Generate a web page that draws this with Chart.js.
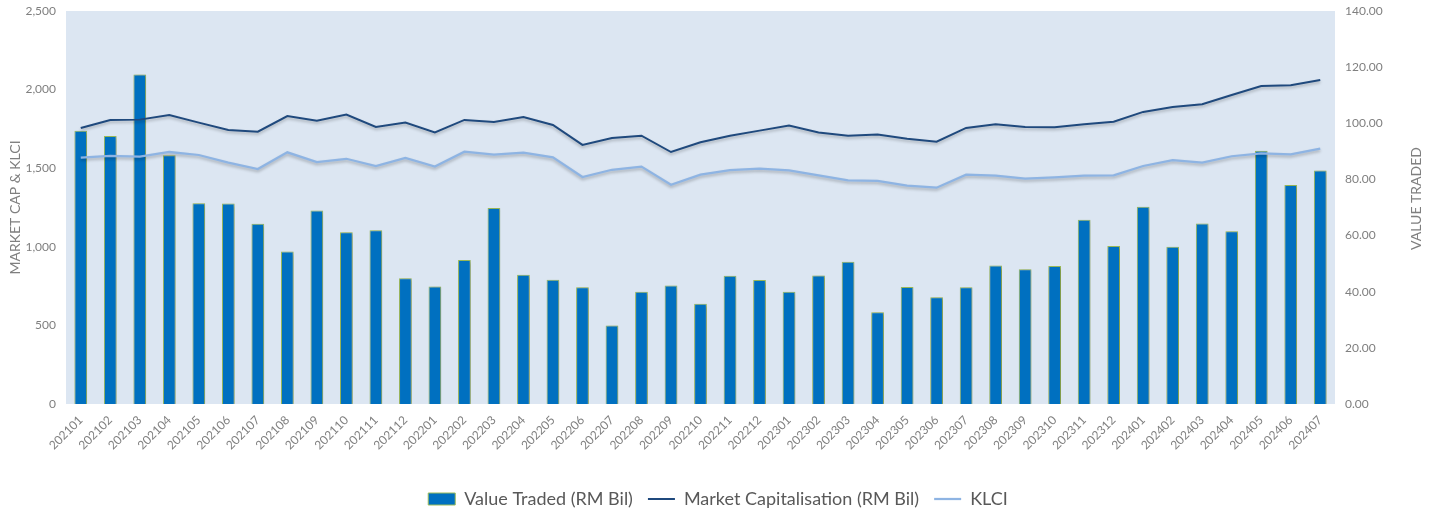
<!DOCTYPE html>
<html>
<head>
<meta charset="utf-8">
<script src="https://cdn.jsdelivr.net/npm/chart.js@4.4.1/dist/chart.umd.min.js"></script>
<style>
  html, body { margin: 0; padding: 0; background: #ffffff; }
  #wrap { width: 1436px; height: 515px; position: relative; overflow: hidden; }
</style>
</head>
<body>
<div id="wrap"><canvas id="chart" width="1436" height="515"></canvas></div>
<script>
// Monthly periods (YYYYMM)
const months = [
  '202101','202102','202103','202104','202105','202106','202107','202108','202109','202110','202111','202112',
  '202201','202202','202203','202204','202205','202206','202207','202208','202209','202210','202211','202212',
  '202301','202302','202303','202304','202305','202306','202307','202308','202309','202310','202311','202312',
  '202401','202402','202403','202404','202405','202406','202407'
];

// Value traded, RM billion (right axis)
const valueTraded = [
  97.3, 95.5, 117.4, 88.6, 71.5, 71.4, 64.2, 54.3, 68.9, 61.2, 61.9, 44.8,
  41.9, 51.3, 69.8, 46.0, 44.3, 41.6, 28.0, 40.0, 42.2, 35.7, 45.7, 44.2,
  40.0, 45.8, 50.7, 32.7, 41.7, 38.0, 41.6, 49.3, 48.0, 49.2, 65.6, 56.3,
  70.3, 56.0, 64.3, 61.5, 90.2, 78.0, 83.2
];

// Market capitalisation, RM billion (left axis)
const marketCap = [
  1756, 1807, 1809, 1838, 1790, 1743, 1732, 1832, 1802, 1841, 1762, 1790,
  1728, 1807, 1794, 1826, 1775, 1648, 1692, 1707, 1603, 1665, 1707, 1739,
  1771, 1727, 1707, 1715, 1688, 1669, 1756, 1779, 1762, 1760, 1779, 1796,
  1858, 1889, 1907, 1966, 2023, 2027, 2061
];

// FBM KLCI index level (left axis)
const klci = [
  1567, 1578, 1573, 1603, 1584, 1535, 1495, 1601, 1539, 1560, 1514, 1565,
  1510, 1605, 1586, 1599, 1569, 1444, 1490, 1510, 1395, 1459, 1488, 1497,
  1486, 1455, 1423, 1419, 1389, 1376, 1459, 1452, 1433, 1442, 1452, 1455,
  1514, 1552, 1535, 1576, 1595, 1588, 1624
];

// Axis tick labels
const leftTicks = ['0', '500', '1,000', '1,500', '2,000', '2,500'];
const rightTicks = ['0.00', '20.00', '40.00', '60.00', '80.00', '100.00', '120.00', '140.00'];

const seriesNames = ['Value Traded (RM Bil)', 'Market Capitalisation (RM Bil)', 'KLCI'];
const leftTitle = 'MARKET CAP & KLCI';
const rightTitle = 'VALUE TRADED';

const FONT = 'Lato, "Open Sans", sans-serif';
const GREY = '#7f7f7f';

// Light blue plot-area fill
const plotBackground = {
  id: 'plotBackground',
  beforeDraw(chart) {
    const { ctx, chartArea: a } = chart;
    ctx.save();
    ctx.fillStyle = '#dce6f2';
    ctx.fillRect(a.left, a.top, a.right - a.left, a.bottom - a.top);
    ctx.restore();
  }
};

// Soft drop shadow under bars and lines
const softShadow = {
  id: 'softShadow',
  beforeDatasetDraw(chart, args) {
    const ctx = chart.ctx;
    ctx.save();
    const isBar = chart.data.datasets[args.index].type === 'bar';
    ctx.shadowColor = isBar ? 'rgba(0,0,0,0.28)' : 'rgba(0,0,0,0.25)';
    ctx.shadowBlur = 3;
    ctx.shadowOffsetX = isBar ? 1 : 0;
    ctx.shadowOffsetY = isBar ? 1 : 2;
  },
  afterDatasetDraw(chart) {
    chart.ctx.restore();
  }
};

// Right axis title, reading bottom to top
const rightAxisTitle = {
  id: 'rightAxisTitle',
  afterDraw(chart) {
    const { ctx, chartArea: a } = chart;
    ctx.save();
    ctx.translate(1416, (a.top + a.bottom) / 2 - 9);
    ctx.rotate(-Math.PI / 2);
    ctx.fillStyle = GREY;
    ctx.font = '14px ' + FONT;
    ctx.textAlign = 'center';
    ctx.textBaseline = 'middle';
    ctx.fillText(rightTitle, 0, 0);
    ctx.restore();
  }
};

function fixVertical(width) {
  return function (scale) {
    scale.width = width;
    scale.paddingTop = 0;
    scale.paddingBottom = 0;
  };
}

new Chart(document.getElementById('chart'), {
  data: {
    labels: months,
    datasets: [
      {
        type: 'bar',
        label: seriesNames[0],
        data: valueTraded,
        yAxisID: 'y1',
        backgroundColor: '#0070c0',
        borderColor: '#9bbb59',
        borderWidth: 1,
        barPercentage: 0.43,
        categoryPercentage: 1.0,
        order: 3,
        pointStyle: 'rect'
      },
      {
        type: 'line',
        label: seriesNames[1],
        data: marketCap,
        yAxisID: 'y',
        borderColor: '#1f497d',
        backgroundColor: '#1f497d',
        borderWidth: 2,
        tension: 0,
        pointRadius: 0,
        order: 1,
        pointStyle: 'line'
      },
      {
        type: 'line',
        label: seriesNames[2],
        data: klci,
        yAxisID: 'y',
        borderColor: '#8eb4e3',
        backgroundColor: '#8eb4e3',
        borderWidth: 2.25,
        tension: 0,
        pointRadius: 0,
        order: 2,
        pointStyle: 'line'
      }
    ]
  },
  options: {
    responsive: false,
    animation: false,
    events: [],
    layout: { padding: { top: 11, left: 0, right: 0, bottom: -3 } },
    plugins: {
      tooltip: { enabled: false },
      legend: {
        position: 'bottom',
        labels: {
          usePointStyle: true,
          pointStyleWidth: 27,
          boxHeight: 12,
          padding: 15,
          color: '#595959',
          font: { family: FONT, size: 18 },
          sort: (a, b) => a.datasetIndex - b.datasetIndex
        }
      }
    },
    scales: {
      x: {
        offset: true,
        grid: { display: false, drawTicks: false },
        border: { display: false },
        ticks: {
          autoSkip: false,
          minRotation: 45,
          maxRotation: 45,
          padding: 9,
          color: GREY,
          font: { family: FONT, size: 12 }
        },
        afterFit(scale) { scale.height = 71; }
      },
      y: {
        position: 'left',
        min: 0,
        max: 2500,
        grid: { display: false, drawTicks: false },
        border: { display: false },
        ticks: {
          stepSize: 500,
          padding: 10,
          color: GREY,
          font: { family: FONT, size: 12 },
          callback: (v, i) => leftTicks[i]
        },
        title: {
          display: true,
          text: leftTitle,
          color: GREY,
          font: { family: FONT, size: 14 },
          padding: { top: 7, bottom: 0 }
        },
        afterFit: fixVertical(66)
      },
      y1: {
        position: 'right',
        min: 0,
        max: 140,
        grid: { display: false, drawTicks: false },
        border: { display: false },
        ticks: {
          stepSize: 20,
          padding: 10,
          color: GREY,
          font: { family: FONT, size: 12 },
          callback: (v, i) => rightTicks[i]
        },
        afterFit: fixVertical(101)
      }
    }
  },
  plugins: [plotBackground, softShadow, rightAxisTitle]
});
</script>
</body>
</html>
